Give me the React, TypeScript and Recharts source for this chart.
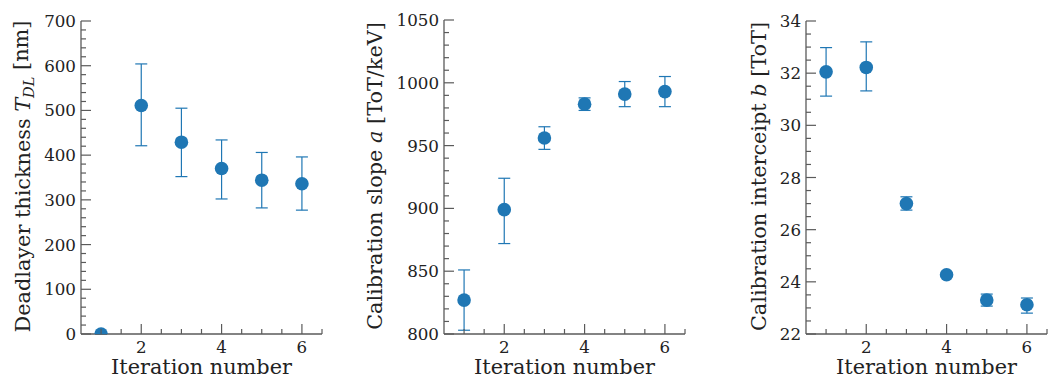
import type { JSX, ReactNode } from "react";

import { ErrorBar, Scatter, ScatterChart, XAxis, YAxis } from "recharts";

const iterations = [1, 2, 3, 4, 5, 6];

const deadlayer = [0, 511, 429, 370, 344, 336];
const deadlayerLow = [0, 421, 352, 302, 282, 277];
const deadlayerHigh = [0, 604, 505, 434, 406, 396];

const slope = [827, 899, 956, 983, 991, 993];
const slopeLow = [803, 872, 947, 978, 981, 981];
const slopeHigh = [851, 924, 965, 988, 1001, 1005];

const intercept = [32.05, 32.22, 27.0, 24.27, 23.3, 23.12];
const interceptLow = [31.12, 31.32, 26.75, 24.2, 23.07, 22.8];
const interceptHigh = [32.98, 33.2, 27.26, 24.34, 23.53, 23.38];

const xMajor = [2, 4, 6];
const deadlayerMajor = [0, 100, 200, 300, 400, 500, 600, 700];
const slopeMajor = [800, 850, 900, 950, 1000, 1050];
const interceptMajor = [22, 24, 26, 28, 30, 32, 34];

const BLUE = "#1f77b4";
const AXIS = "#5a5a5a";
const TEXT = "#222";
const FONT = "DejaVu Serif";
const W = 352;
const H = 378;
const R = 6.8;

function withMinors(from: number, to: number, step: number): number[] {
	const out: number[] = [];
	const n = Math.round((to - from) / step);
	for (let i = 0; i <= n; i++) out.push(Math.round((from + i * step) * 1000) / 1000);
	return out;
}

function rows(vals: number[], lo: number[], hi: number[]) {
	return iterations.map((it, i) => ({ err: [vals[i] - lo[i], hi[i] - vals[i]], it, v: vals[i] }));
}

function YTick(props: any): JSX.Element {
	const { x, y, payload, majors } = props;
	const major = majors.includes(payload.value);
	return (
		<g>
			<line stroke={AXIS} strokeWidth={1.2} x1={x} x2={x + (major ? 10 : 5)} y1={y} y2={y} />
			{major && (
				<text dy="0.36em" fill={TEXT} fontFamily={FONT} fontSize={16.7} textAnchor="end" x={x - 5} y={y}>
					{payload.value}
				</text>
			)}
		</g>
	);
}

function XTick(props: any): JSX.Element {
	const { x, y, payload } = props;
	const major = xMajor.includes(payload.value);
	return (
		<g>
			<line stroke={AXIS} strokeWidth={1.2} x1={x} x2={x} y1={y} y2={y - (major ? 10 : 5)} />
			{major && (
				<text fill={TEXT} fontFamily={FONT} fontSize={16.7} textAnchor="middle" x={x} y={y + 19}>
					{payload.value}
				</text>
			)}
		</g>
	);
}

type Margin = { bottom: number; left: number; right: number; top: number };

type PanelProps = {
	data: { err: number[]; it: number; v: number }[];
	domain: [number, number];
	labelOffset: number;
	left: number;
	majors: number[];
	margin: Margin;
	minorStep: number;
	yLabel: ReactNode;
};

// marker, cut off at the bottom of the plot area like matplotlib's clipping
function Dot(props: any): JSX.Element {
	const { cx, cy, bottom } = props;
	if (cy + R <= bottom) return <circle cx={cx} cy={cy} fill={BLUE} r={R} />;
	const d = bottom - cy;
	if (d <= -R) return <g />;
	const w = Math.sqrt(R * R - d * d);
	const large = d >= 0 ? 1 : 0;
	return <path d={`M${cx - w},${bottom} A${R},${R} 0 ${large} 1 ${cx + w},${bottom} Z`} fill={BLUE} />;
}

function Panel({ data, domain, labelOffset, left, majors, margin, minorStep, yLabel }: PanelProps): JSX.Element {
	return (
		<div style={{ left, position: "absolute", top: 0 }}>
			<ScatterChart height={H} margin={{ ...margin, bottom: margin.bottom - 1, left: margin.left - 1 }} width={W}>
				<XAxis
					axisLine={{ stroke: AXIS, strokeWidth: 1.3 }}
					dataKey="it"
					domain={[0.5, 6.5]}
					height={1}
					interval={0}
					label={{
						content: (p: any) => (
							<text fill={TEXT} fontFamily={FONT} fontSize={20.8} textAnchor="middle" x={p.viewBox.x + p.viewBox.width / 2} y={p.viewBox.y + 40}>
								Iteration number
							</text>
						),
					}}
					tick={(p: any) => <XTick {...p} />}
					tickLine={false}
					tickMargin={0}
					tickSize={0}
					ticks={withMinors(1, 6.5, 0.5)}
					type="number"
				/>
				<YAxis
					axisLine={{ stroke: AXIS, strokeWidth: 1.3 }}
					dataKey="v"
					domain={domain}
					interval={0}
					label={{
						content: (p: any) => {
							const cx = p.viewBox.x + p.viewBox.width - labelOffset;
							const cy = p.viewBox.y + p.viewBox.height / 2 - 1;
							return (
								<text fill={TEXT} fontFamily={FONT} fontSize={20.8} textAnchor="middle" transform={`rotate(-90 ${cx} ${cy})`} x={cx} y={cy}>
									{yLabel}
								</text>
							);
						},
					}}
					tick={(p: any) => <YTick {...p} majors={majors} />}
					tickLine={false}
					tickMargin={0}
					tickSize={0}
					ticks={withMinors(domain[0], domain[1], minorStep)}
					type="number"
					width={1}
				/>
				<Scatter
					data={data}
					fill={BLUE}
					isAnimationActive={false}
					shape={(p: any) => <Dot {...p} bottom={H - margin.bottom} />}
				>
					<ErrorBar dataKey="err" direction="y" isAnimationActive={false} stroke={BLUE} strokeWidth={1.2} width={6} />
				</Scatter>
			</ScatterChart>
		</div>
	);
}

export default function App(): JSX.Element {
	return (
		<div style={{ background: "#fff", height: H, left: 0, position: "absolute", top: 0, width: 1056 }}>
			<Panel
				data={rows(deadlayer, deadlayerLow, deadlayerHigh)}
				domain={[0, 700]}
				labelOffset={51}
				left={0}
				majors={deadlayerMajor}
				margin={{ bottom: 44, left: 81, right: 30, top: 21 }}
				minorStep={20}
				yLabel={
					<>
						Deadlayer thickness <tspan fontStyle="italic">T</tspan>
						<tspan dy="0.25em" fontSize="0.7em" fontStyle="italic">
							DL
						</tspan>
						<tspan dy="-0.25em"> [nm]</tspan>
					</>
				}
			/>
			<Panel
				data={rows(slope, slopeLow, slopeHigh)}
				domain={[800, 1050]}
				labelOffset={62}
				left={352}
				majors={slopeMajor}
				margin={{ bottom: 44, left: 92, right: 19, top: 20 }}
				minorStep={10}
				yLabel={
					<>
						Calibration slope <tspan fontStyle="italic">a</tspan> [ToT/keV]
					</>
				}
			/>
			<Panel
				data={rows(intercept, interceptLow, interceptHigh)}
				domain={[22, 34]}
				labelOffset={40}
				left={704}
				majors={interceptMajor}
				margin={{ bottom: 44, left: 102, right: 9, top: 21 }}
				minorStep={0.5}
				yLabel={
					<>
						Calibration interceipt <tspan fontStyle="italic">b</tspan> [ToT]
					</>
				}
			/>
		</div>
	);
}
